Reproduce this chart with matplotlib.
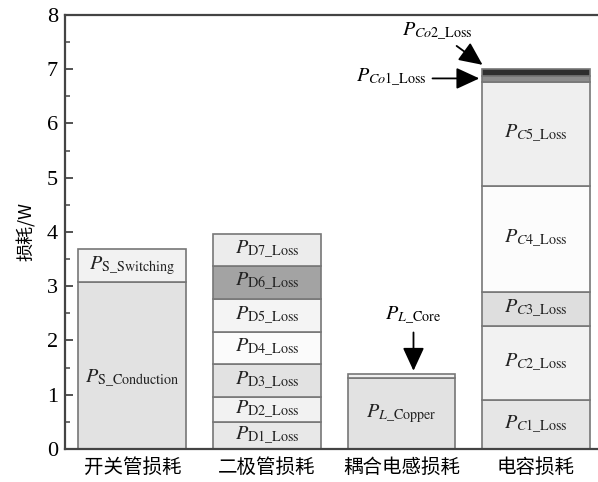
import numpy as np
import matplotlib
matplotlib.use('Agg')
from matplotlib import pyplot as plt

plt.rcParams['font.family'] = ['Liberation Serif', 'Noto Sans CJK SC', 'DejaVu Sans']
plt.rcParams['mathtext.fontset'] = 'stix'

# 损耗类别
categories = ['开关管损耗', '二极管损耗', '耦合电感损耗', '电容损耗']

# 每根柱子的分段损耗(W)，自下而上
switch_loss = [3.08, 0.61]
switch_names = [r'$P_{\mathrm{S\_Conduction}}$', r'$P_{\mathrm{S\_Switching}}$']

diode_loss = [0.49, 0.47, 0.60, 0.60, 0.60, 0.62, 0.58]
diode_names = [r'$P_{\mathrm{D%d\_Loss}}$' % i for i in range(1, 8)]

inductor_loss = [1.30, 0.09]
inductor_names = [r'$P_{L\mathrm{\_Copper}}$', r'$P_{L\mathrm{\_Core}}$']

cap_loss = [0.90, 1.37, 0.62, 1.95, 1.93, 0.10, 0.13]
cap_names = [r'$P_{C\mathrm{%d\_Loss}}$' % i for i in range(1, 6)] + \
            [r'$P_{Co\mathrm{1\_Loss}}$', r'$P_{Co\mathrm{2\_Loss}}$']

# 各分段填充色
switch_colors = ['#e2e2e2', '#f2f2f2']
diode_colors = ['#e8e8e8', '#f2f2f2', '#e2e2e2', '#fbfbfb', '#f4f4f4', '#a3a3a3', '#ececec']
inductor_colors = ['#e2e2e2', '#f0f0f0']
cap_colors = ['#e6e6e6', '#f2f2f2', '#dedede', '#fcfcfc', '#efefef', '#8c8c8c', '#2e2e2e']

groups = [
    (switch_loss, switch_names, switch_colors),
    (diode_loss, diode_names, diode_colors),
    (inductor_loss, inductor_names, inductor_colors),
    (cap_loss, cap_names, cap_colors),
]

fig = plt.figure(figsize=(5.98, 4.82), dpi=100)
ax = fig.add_axes([0.1087, 0.0685, 0.9, 0.9005])

width = 0.8
for x, (vals, names, cols) in enumerate(groups):
    bottom = 0.0
    for i, (v, name, c) in enumerate(zip(vals, names, cols)):
        ax.bar(x, v, width=width, bottom=bottom, color=c, edgecolor='#777777', linewidth=1.2)
        # 小分段用箭头标注，其余写在柱内
        if v > 0.3:
            y = bottom + v / 2
            if name == switch_names[0]:
                y = bottom + v * 0.42
            ax.text(x, y, name, ha='center', va='center', fontsize=14.5, color='#222222')
        bottom += v

# 箭头标注
head = '-|>,head_length=0.65,head_width=0.3'
arrow = dict(arrowstyle=head, color='black', lw=1.3, mutation_scale=22)
core_top = sum(inductor_loss)
ax.annotate(inductor_names[1], xy=(2.09, core_top), xytext=(2.09, 2.25),
            ha='center', va='bottom', fontsize=14.5, arrowprops=arrow)
co1_y = sum(cap_loss[:5]) + cap_loss[5] * 0.6
ax.annotate(cap_names[5], xy=(3 - width / 2, co1_y), xytext=(2.19, co1_y),
            ha='right', va='center', fontsize=14.5, arrowprops=arrow)
ax.annotate(cap_names[6], xy=(3 - width / 2 + 0.02, sum(cap_loss) + 0.05),
            xytext=(2.27, 7.48), ha='center', va='bottom', fontsize=14.5,
            arrowprops=dict(arrowstyle=head, color='black', lw=1.3, mutation_scale=22,
                            shrinkA=0))

ax.set_xlim(-0.5, 3.5)
ax.set_ylim(0, 8)
ax.set_xticks(range(4))
ax.set_xticklabels(categories, fontsize=14, family=['Noto Sans CJK SC'])
ax.tick_params(axis='x', length=0, pad=6)
ax.set_yticks(range(0, 9))
ax.set_yticks(np.arange(0.5, 8, 1.0), minor=True)
ax.tick_params(axis='y', which='major', direction='in', length=6, width=1.3, labelsize=16,
               color='#444444', pad=5)
ax.tick_params(axis='y', which='minor', direction='in', length=3.5, width=1.1, color='#444444')
ax.set_ylabel('损耗/W', fontsize=13, family=['Noto Sans CJK SC'], labelpad=8)

for s in ['left', 'bottom', 'top']:
    ax.spines[s].set_linewidth(1.6)
    ax.spines[s].set_color('#444444')
ax.spines['right'].set_visible(False)

fig.savefig('out.png', dpi=100)
